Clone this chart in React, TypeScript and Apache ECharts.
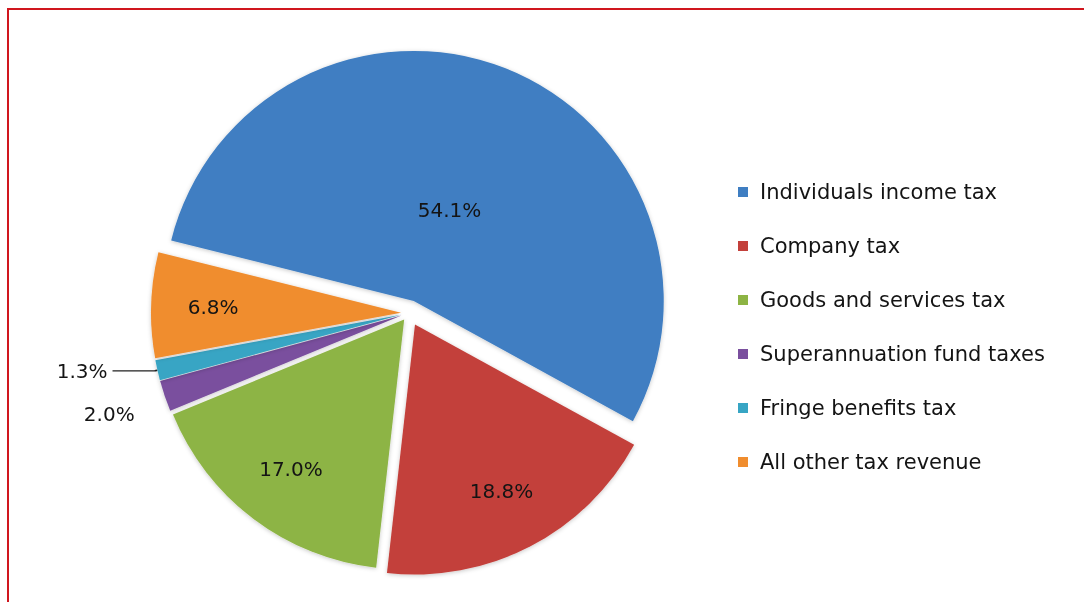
import React, { useEffect, useRef } from "react";
import * as echarts from "echarts";

const categories = [
  "Individuals income tax",
  "Company tax",
  "Goods and services tax",
  "Superannuation fund taxes",
  "Fringe benefits tax",
  "All other tax revenue",
];
const shares = [54.1, 18.8, 17.0, 2.0, 1.3, 6.8];
const colors = ["#3F7EC2", "#C3403B", "#8DB444", "#7A4F9E", "#37A5C4", "#F08D2E"];

const FONT = "'DejaVu Sans', sans-serif";
const TEXT = "#141414";

export default function App() {
  const ref = useRef<HTMLDivElement>(null);
  useEffect(() => {
    if (!ref.current) return;
    const chart = echarts.init(ref.current, null, { renderer: "svg" });
    const center = [409, 313];
    const R = 250;
    const startAngle = 166;
    // explosion groups: slices sharing an offset
    const groups = [
      { offset: 13, members: [0, 1] },
      { offset: 8, members: [2, 3, 4, 5] },
    ];
    // label placement per slice
    const nearInside = [0];
    const farInside = [1, 2, 5];
    const outside = [3, 4];
    const fmt = (p: any) => p.value.toFixed(1) + "%";
    const fmtLow = (p: any) => "{low|" + p.value.toFixed(1) + "%}";
    const labelText = { fontFamily: FONT, fontSize: 20, color: TEXT };

    const series: any[] = [];
    groups.forEach((g) => {
      const base = {
        type: "pie",
        center,
        startAngle,
        clockwise: true,
        selectedMode: "multiple",
        selectedOffset: g.offset,
        avoidLabelOverlap: false,
        emphasis: { disabled: true },
      };
      // filled slices (+ outside labels)
      series.push({
        ...base,
        radius: [0, R],
        z: 2,
        silent: true,
        itemStyle: { shadowBlur: 4, shadowColor: "rgba(0,0,0,0.22)", shadowOffsetY: 1 },
        data: categories.map((name, i) => {
          const mine = g.members.includes(i);
          return {
            name,
            value: shares[i],
            selected: true,
            itemStyle: mine
              ? { color: colors[i] }
              : { color: "rgba(0,0,0,0)", shadowBlur: 0, shadowColor: "rgba(0,0,0,0)" },
            label: {
              show: mine && outside.includes(i),
              position: "outside",
              formatter: i === 3 ? fmtLow : fmt,
              ...labelText,
              rich: {
                low: { ...labelText, lineHeight: 44, verticalAlign: "bottom" },
              },
            },
            labelLine: {
              show: mine && i === 4,
              length: i === 4 ? 3 : 18,
              length2: i === 4 ? 42 : 8,
              smooth: 0.3,
              lineStyle: { color: "#222", width: 1.3 },
            },
          };
        }),
      });
      // inside labels at two different radial depths
      [
        { list: nearInside, r: [0, 190] },
        { list: farInside, r: [120, R] },
      ].forEach((lv) => {
        series.push({
          ...base,
          radius: lv.r,
          z: 5,
          silent: true,
          labelLine: { show: false },
          data: categories.map((name, i) => ({
            name,
            value: shares[i],
            selected: true,
            itemStyle: { color: "rgba(0,0,0,0)" },
            label: {
              show: g.members.includes(i) && lv.list.includes(i),
              position: "inside",
              formatter: fmt,
              ...labelText,
            },
          })),
        });
      });
    });

    chart.setOption({
      animation: false,
      backgroundColor: "transparent",
      legend: {
        orient: "vertical",
        left: 733,
        top: 176,
        icon: "rect",
        itemWidth: 10,
        itemHeight: 10,
        itemGap: 32,
        selectedMode: false,
        textStyle: {
          fontFamily: FONT,
          fontSize: 21,
          color: TEXT,
          lineHeight: 22,
          padding: [0, 0, 0, 7],
        },
        data: categories.map((name, i) => ({ name, itemStyle: { color: colors[i] } })),
      },
      series,
    });
    return () => chart.dispose();
  }, []);
  return (
    <>
      <div
        style={{
          position: "fixed",
          left: 7,
          top: 8,
          width: 1200,
          height: 700,
          borderTop: "2px solid #d0161e",
          borderLeft: "2px solid #d0161e",
          pointerEvents: "none",
        }}
      />
      <div ref={ref} style={{ position: "fixed", left: 0, top: 0, width: 1084, height: 602 }} />
    </>
  );
}
